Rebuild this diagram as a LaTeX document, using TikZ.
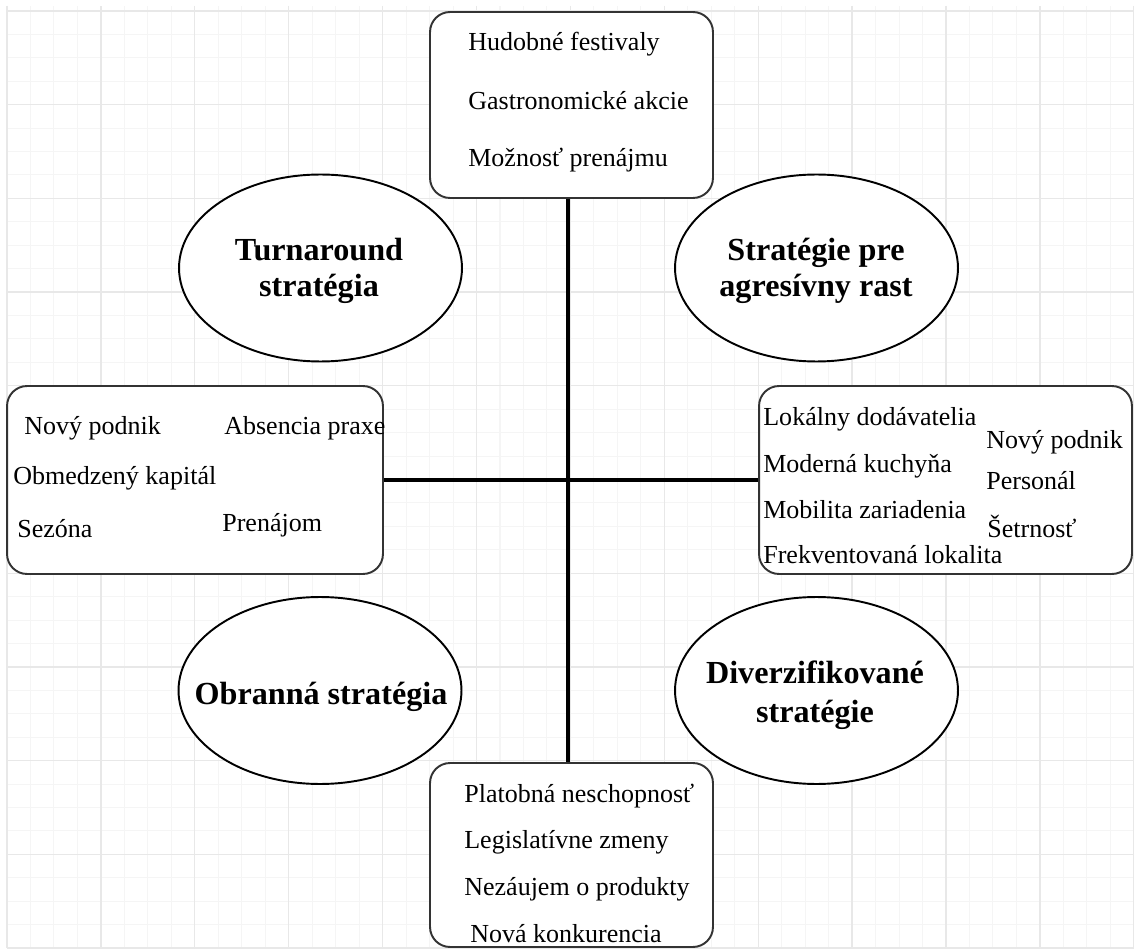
\documentclass[tikz,border=0pt]{standalone}
\usepackage{fontspec}
\setmainfont{Liberation Serif}
\usetikzlibrary{shapes.geometric}
\begin{document}
\begin{tikzpicture}[x=0.02cm,y=-0.02cm,
  box/.style={draw=black!80, line width=1.1pt, rounded corners=0.4cm, fill=white, minimum width=5.66cm, inner sep=0},
  oval/.style={ellipse, draw=black, line width=1.1pt, fill=white, minimum width=5.66cm, minimum height=3.74cm, inner sep=0},
  ovaltext/.style={inner sep=0, align=center, font=\fontsize{18.3}{20.5}\selectfont\bfseries},
  item/.style={anchor=base west, inner sep=0, font=\fontsize{14.8}{17}\selectfont},
  link/.style={line width=2.3pt},
  minor/.style={black!4, line width=0.6pt},
  major/.style={black!9, line width=0.7pt}]
\useasboundingbox (0,0) rectangle (1136,949);
% grid
\foreach \i in {0,...,48} {\draw[minor] ({7+23.475*\i},6) -- ({7+23.475*\i},948);}
\foreach \j in {0,...,40} {\draw[minor] (7,{11+23.425*\j}) -- (1134,{11+23.425*\j});}
\foreach \i in {0,...,12} {\draw[major] ({7+93.9*\i},6) -- ({7+93.9*\i},948);}
\foreach \j in {0,...,10} {\draw[major] (7,{11+93.7*\j}) -- (1134,{11+93.7*\j});}
% boxes
\node[box, minimum height=3.72cm] (top) at (571.5,105) {};
\node[box, minimum height=3.68cm] (bot) at (571.5,855) {};
\node[box, minimum width=7.52cm, minimum height=3.76cm] (left) at (195,480) {};
\node[box, minimum width=7.46cm, minimum height=3.76cm] (right) at (945.5,480) {};
% connectors
\draw[link] (top.south) ++(-3.5,0) coordinate (vt) -- (vt |- bot.north);
\draw[link] (left.east) -- (right.west);
% ellipses
\node[oval] (turn) at (320.5,268) {};
\node[oval] (grow) at (816.5,268) {};
\node[oval] (def) at (320,690.5) {};
\node[oval] (div) at (816.5,690.5) {};
\node[ovaltext] (turnT) at (319,271) {Turnaround\\stratégia};
\node[ovaltext] (growT) at (816,271) {Stratégie pre\\agresívny rast};
\node[ovaltext] (defT) at (321,697) {Obranná stratégia};
\node[ovaltext] (divT) at (815,695) {Diverzifikované\\[2pt]stratégie};
% top box texts
\node[item] (t1) at (468,51) {Hudobné festivaly};
\node[item] (t2) at (468,110) {Gastronomické akcie};
\node[item] (t3) at (468,167) {Možnosť prenájmu};
% left box texts
\node[item] (l1) at (24,435) {Nový podnik};
\node[item] (l2) at (224,435) {Absencia praxe};
\node[item] (l3) at (13,484) {Obmedzený kapitál};
\node[item] (l4) at (17,537) {Sezóna};
\node[item] (l5) at (222,531) {Prenájom};
% right box texts
\node[item] (r1) at (763,425) {Lokálny dodávatelia};
\node[item] (r2) at (986,448) {Nový podnik};
\node[item] (r3) at (763,472) {Moderná kuchyňa};
\node[item] (r4) at (986,489) {Personál};
\node[item] (r5) at (763,518) {Mobilita zariadenia};
\node[item] (r6) at (987,537) {Šetrnosť};
\node[item] (r7) at (763,563) {Frekventovaná lokalita};
% bottom box texts
\node[item] (b1) at (464,802) {Platobná neschopnosť};
\node[item] (b2) at (464,848) {Legislatívne zmeny};
\node[item] (b3) at (464,895) {Nezáujem o produkty};
\node[item] (b4) at (470,942) {Nová konkurencia};
\end{tikzpicture}
\end{document}
